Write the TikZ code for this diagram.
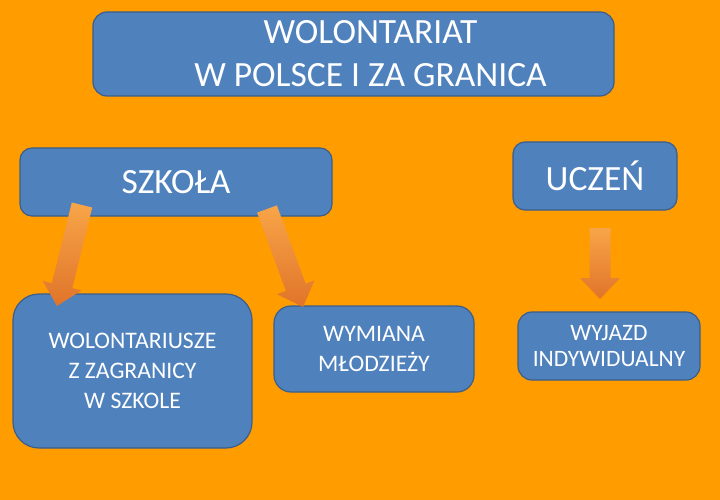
\documentclass[tikz,border=0pt]{standalone}
\usepackage{fontspec}
\setmainfont{Carlito}
\usetikzlibrary{calc}

\definecolor{bgorange}{HTML}{FF9C00}
\definecolor{boxblue}{HTML}{4F81BD}
\definecolor{boxedge}{HTML}{3B5E8A}
\definecolor{arrowtop}{HTML}{F8A548}
\definecolor{arrowbot}{HTML}{E0742A}

\tikzset{
  box/.style={draw=boxedge, line width=1.2pt, fill=boxblue, text=white,
    align=center, inner sep=0pt, rounded corners=12pt},
  bigtext/.style={font=\fontsize{35.5}{43}\selectfont},
  smalltext/.style={font=\fontsize{23.7}{30}\selectfont},
  arrowbody/.style={top color=arrowtop, bottom color=arrowbot, draw=none}
}

% block arrow from #1 to the tip #2
\def\shaftw{10.5}
\def\headw{20}
\def\headl{21}
\newcommand{\blockarrow}[2]{%
  \path[arrowbody] let \p1=(#1), \p2=(#2),
    \n1={atan2(\y2-\y1,\x2-\x1)}, \n2={veclen(\x2-\x1,\y2-\y1)} in
    [shift={(\p1)}, rotate=\n1]
    (0,-\shaftw) -- (\n2-\headl,-\shaftw) -- (\n2-\headl,-\headw)
    -- (\n2,0) -- (\n2-\headl,\headw) -- (\n2-\headl,\shaftw)
    -- (0,\shaftw) -- cycle;}

\begin{document}
\begin{tikzpicture}[x=1pt, y=-1pt]

    % 1. Background
    \fill [bgorange] (0,0) rectangle (720,500);
    \useasboundingbox (0,0) rectangle (720,500);

    % 2. Title box
    \node [box, rounded corners=14pt, minimum width=521pt, minimum height=84pt,
      label={[bigtext, text=white, align=center, xshift=17pt]center:WOLONTARIAT\\W POLSCE I ZA GRANICA}]
      (title) at (353.5,54) {};

    % 3. Second row
    \node [box, bigtext, minimum width=312pt, minimum height=68pt] (szkola) at (176,182) {SZKOŁA};
    \node [box, bigtext, minimum width=164pt, minimum height=68pt] (uczen) at (595,176) {UCZEŃ};

    % 4. Bottom row
    \node [box, smalltext, rounded corners=26pt, minimum width=239pt, minimum height=154pt]
      (wolont) at (132.5,371) {WOLONTARIUSZE\\Z ZAGRANICY\\W SZKOLE};
    \node [box, smalltext, rounded corners=17pt, minimum width=200pt, minimum height=86pt]
      (wymiana) at (374,349) {WYMIANA\\MŁODZIEŻY};
    \node [box, font=\fontsize{23.5}{26}\selectfont, rounded corners=14pt, minimum width=182pt, minimum height=68pt]
      (wyjazd) at (609,346) {WYJAZD\\INDYWIDUALNY};

    % 5. Arrow ends
    \coordinate (s1) at (82,205);
    \coordinate (t1) at (57,306);
    \coordinate (s2) at (267,209);
    \coordinate (t2) at (303,307);
    \coordinate (s3) at (600,228);
    \coordinate (t3) at (600,299);

    % 6. Arrows
    \blockarrow{s1}{t1}
    \blockarrow{s2}{t2}
    \blockarrow{s3}{t3}

\end{tikzpicture}
\end{document}
